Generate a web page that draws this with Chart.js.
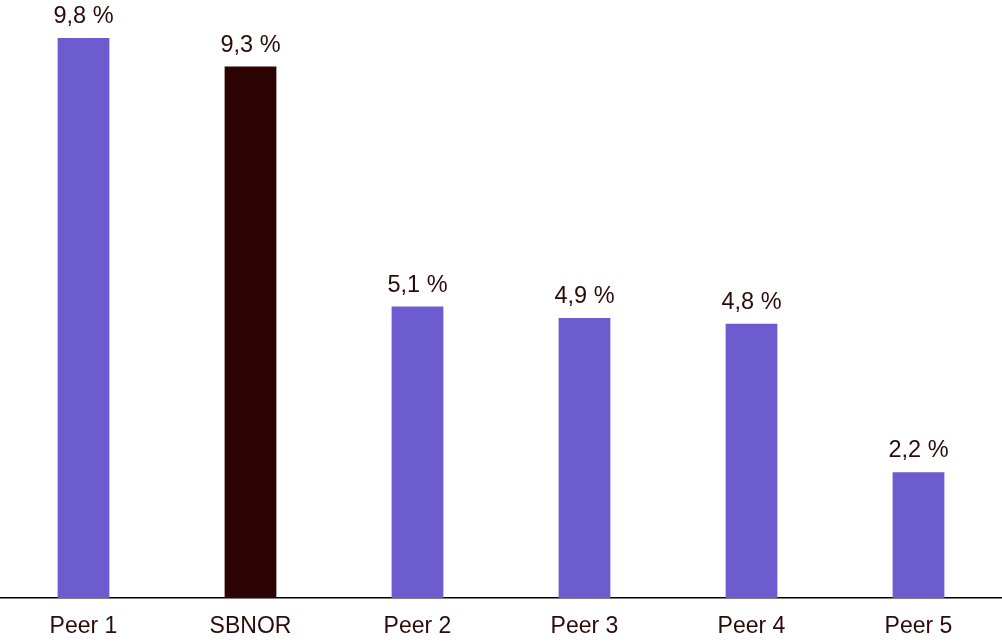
<!DOCTYPE html>
<html>
<head>
<meta charset="utf-8">
<script src="https://cdn.jsdelivr.net/npm/chart.js"></script>
<style>
  html, body { margin: 0; padding: 0; background: #fff; }
  #wrap { width: 1002px; height: 642px; position: relative; }
</style>
</head>
<body>
<div id="wrap"><canvas id="chart"></canvas></div>
<script>
// categorías y valores (%)
const categorias = ['Peer 1', 'SBNOR', 'Peer 2', 'Peer 3', 'Peer 4', 'Peer 5'];
const valores = [9.8, 9.3, 5.1, 4.9, 4.8, 2.2];
const colores = ['#6c5ccf', '#2e0303', '#6c5ccf', '#6c5ccf', '#6c5ccf', '#6c5ccf'];

const textColor = '#2d0a0a';
const fuente = "'Liberation Sans', Arial, sans-serif";

// etiquetas encima de cada barra
const etiquetas = {
  id: 'etiquetas',
  afterDatasetsDraw(chart) {
    const ctx = chart.ctx;
    const meta = chart.getDatasetMeta(0);
    ctx.save();
    ctx.font = '23.5px ' + fuente;
    ctx.fillStyle = textColor;
    ctx.textAlign = 'center';
    ctx.textBaseline = 'alphabetic';
    meta.data.forEach((bar, i) => {
      const txt = valores[i].toFixed(1).replace('.', ',') + ' %';
      ctx.fillText(txt, bar.x, bar.y - 15);
    });
    ctx.restore();
  }
};

new Chart(document.getElementById('chart'), {
  type: 'bar',
  data: {
    labels: categorias,
    datasets: [{
      data: valores,
      backgroundColor: colores,
      borderWidth: 0,
      barPercentage: 0.31,
      categoryPercentage: 1
    }]
  },
  options: {
    responsive: true,
    maintainAspectRatio: false,
    animation: false,
    layout: { padding: 0 },
    plugins: {
      legend: { display: false },
      tooltip: { enabled: false }
    },
    scales: {
      x: {
        grid: { display: false, drawTicks: false },
        border: { display: true, color: '#000', width: 1.5 },
        ticks: {
          color: textColor,
          font: { family: fuente, size: 23 },
          padding: 15
        },
        afterFit(scale) { scale.height = 44; }
      },
      y: {
        display: false,
        min: 0,
        max: 10.465
      }
    }
  },
  plugins: [etiquetas]
});
</script>
</body>
</html>
